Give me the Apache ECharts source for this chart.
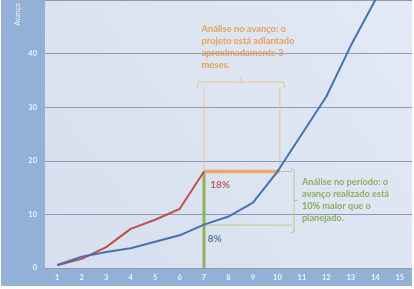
<!DOCTYPE html>
<html>
<head>
<meta charset="utf-8">
<script src="https://cdn.jsdelivr.net/npm/echarts@6/dist/echarts.min.js"></script>
<style>
  html, body { margin: 0; padding: 0; background: #ffffff; }
  #chart { position: absolute; left: 1px; top: 0; width: 411px; height: 286px; }
</style>
</head>
<body>
<div id="chart"></div>
<script>
// dados
var periods = ['1', '2', '3', '4', '5', '6', '7', '8', '9', '10', '11', '12', '13', '14', '15'];
var realizado = [0.5, 1.7, 3.9, 7.3, 9, 11, 18];
var planejado = [0.55, 2.1, 3.0, 3.7, 4.9, 6.1, 8.1, 9.6, 12.2, 18, 25, 32, 41.5, 50];
var yMin = 0, yMax = 50, yStep = 10;

// anotações (coordenadas em unidades do gráfico)
var avancoLevel = [[7, 18], [10.1, 18]];
var periodoMarker = [[7, 0], [7, 18]];
var avancoVerticals = [[[7, 18], [7, 33.7]], [[10.1, 18], [10.1, 33.7]]];
var avancoBracket = [[6.72, 33.5], [6.75, 34.7], [10.27, 34.7], [10.3, 33.5]];
var avancoNub = [[8.5, 34.7], [8.5, 35.4]];
var periodoLines = [[[7, 8], [10.6, 8]], [[10.1, 18], [10.6, 18]]];
var periodoBracket = [[10.55, 18.5], [10.68, 18.3], [10.68, 6.8], [10.55, 6.6]];
var periodoNub = [[10.68, 12.6], [10.82, 12.6]];
var labelRealizado = [7.25, 16.7, '18%'];
var labelPlanejado = [7.15, 6.6, '8%'];
var textoAvanco = [6.9, 45.6, 'Análise no avanço: o\nprojeto está adiantado\naproximadamente 3\nmeses.'];
var textoPeriodo = [11.0, 17.1, 'Análise no período: o\navanço realizado está\n10% maior que o\nplanejado.'];

var chart = echarts.init(document.getElementById('chart'));

function seg(data, color, width, z) {
    return {
        type: 'line', xAxisIndex: 1, data: data, symbol: 'none', silent: true,
        lineStyle: { color: color, width: width }, z: z, animation: false
    };
}

function note(item, color, size, lh) {
    return {
        type: 'scatter', xAxisIndex: 1, symbolSize: 0, silent: true, z: 10,
        data: [[item[0], item[1]]], animation: false,
        label: {
            show: true, position: [0, 0], align: 'left', verticalAlign: 'top',
            formatter: item[2], color: color, fontWeight: 'bold',
            fontSize: size, lineHeight: lh, fontFamily: 'Lato, sans-serif'
        }
    };
}

var series = [];
avancoVerticals.forEach(function (d) { series.push(seg(d, '#efc396', 1, 2)); });
series.push(seg(avancoBracket, '#efc396', 1, 2));
series.push(seg(avancoNub, '#efc396', 1, 2));
periodoLines.forEach(function (d) { series.push(seg(d, '#b4c79a', 1, 2)); });
series.push(seg(periodoBracket, '#b4c79a', 1, 2));
series.push(seg(periodoNub, '#b4c79a', 1, 2));
series.push(seg(periodoMarker, '#8cb356', 3, 3));
series.push(seg(avancoLevel, '#eea86c', 3.5, 3));
series.push({
    name: 'Realizado', type: 'line', data: realizado, symbol: 'none', z: 5,
    lineStyle: { color: '#c0504d', width: 2 }, animation: false
});
series.push({
    name: 'Planejado', type: 'line', data: planejado, symbol: 'none', z: 6,
    lineStyle: { color: '#4572b0', width: 2 }, animation: false
});
series.push(note(labelRealizado, '#b8403e', 10, 12));
series.push(note(labelPlanejado, '#3b5d8f', 10, 12));
series.push(note(textoAvanco, '#e8913a', 9.3, 11.7));
series.push(note(textoPeriodo, '#76a03e', 9.2, 12));

var option = {
    backgroundColor: '#93b1d7',
    grid: {
        left: 44, right: -6, top: -3, bottom: 18, show: true, borderWidth: 0,
        backgroundColor: {
            type: 'linear', x: 0, y: 1, x2: 1, y2: 0,
            colorStops: [{ offset: 0, color: '#d6dfee' }, { offset: 1, color: '#e3e9f5' }]
        }
    },
    xAxis: [{
        type: 'category', data: periods, boundaryGap: true,
        axisLine: { show: false }, axisTick: { show: false },
        axisLabel: { color: '#eef3fa', fontSize: 7.5, margin: 6, fontFamily: 'Lato, sans-serif', fontWeight: 'bold' }
    }, {
        type: 'value', min: 0.5, max: 15.5, show: false
    }],
    yAxis: {
        type: 'value', min: yMin, max: yMax, interval: yStep,
        axisLine: { show: false }, axisTick: { show: false },
        axisLabel: { color: '#eef3fa', fontSize: 7.5, margin: 8, showMaxLabel: false, fontFamily: 'Lato, sans-serif', fontWeight: 'bold' },
        splitLine: { lineStyle: { color: '#8e9aae', width: 1 } }
    },
    graphic: [{
        type: 'text', left: 13, top: 3, rotation: Math.PI / 2,
        style: { text: 'Avanço', fill: '#eef3fa', fontSize: 7, fontFamily: 'Lato, sans-serif' }
    }],
    series: series
};
chart.setOption(option);
</script>
</body>
</html>
